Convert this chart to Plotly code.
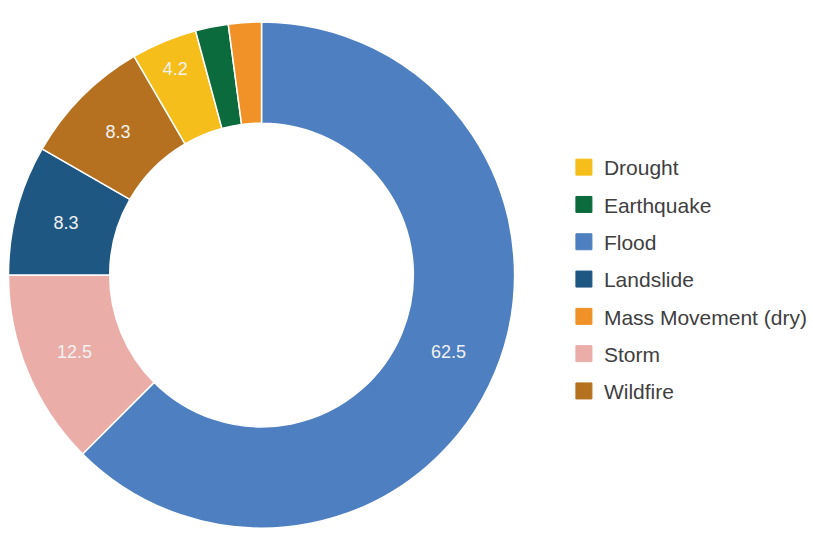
import plotly.graph_objects as go

# Slices in clockwise drawing order (starting at 12 o'clock)
slice_labels = ["Flood", "Storm", "Landslide", "Wildfire", "Drought", "Earthquake", "Mass Movement (dry)"]
slice_values = [62.5, 12.5, 8.3, 8.3, 4.2, 2.1, 2.1]

# Legend order (alphabetical, as in reference)
legend_labels = ["Drought", "Earthquake", "Flood", "Landslide", "Mass Movement (dry)", "Storm", "Wildfire"]

colors = {
    "Drought": "#F6BE1A",
    "Earthquake": "#0B6B3C",
    "Flood": "#4E7FC0",
    "Landslide": "#1F5783",
    "Mass Movement (dry)": "#F09227",
    "Storm": "#EAADA8",
    "Wildfire": "#B5711F",
}

slice_text = [f"{v}" if v >= 4 else "" for v in slice_values]

fig = go.Figure()
fig.add_trace(go.Pie(
    labels=slice_labels,
    values=slice_values,
    text=slice_text,
    texttemplate="%{text}",
    textposition="inside",
    insidetextorientation="horizontal",
    textfont=dict(family="Liberation Sans, Arial, sans-serif", size=18, color="#F2F2F2"),
    sort=False,
    direction="clockwise",
    rotation=0,
    hole=0.6,
    marker=dict(colors=[colors[l] for l in slice_labels], line=dict(color="white", width=1.5)),
    showlegend=False,
    domain=dict(x=[8.5 / 813, 516.5 / 813], y=[5 / 534, 513 / 534]),
))

for lab in legend_labels:
    fig.add_trace(go.Scatter(
        x=[None], y=[None], mode="markers", name=lab, legendgroup=lab,
        marker=dict(symbol="square", size=16, color=colors[lab], line=dict(color=colors[lab], width=1)),
        showlegend=True, hoverinfo="skip",
    ))

fig.update_layout(
    width=813, height=534,
    margin=dict(l=0, r=0, t=0, b=0),
    paper_bgcolor="white", plot_bgcolor="white",
    xaxis=dict(visible=False), yaxis=dict(visible=False),
    legend=dict(
        x=566 / 813, xanchor="left", y=1 - 279.5 / 534, yanchor="middle",
        traceorder="grouped", tracegroupgap=7,
        font=dict(family="Liberation Sans, Arial, sans-serif", size=21, color="#404040"),
        bgcolor="rgba(0,0,0,0)",
    ),
)

fig.write_html("out.html")
